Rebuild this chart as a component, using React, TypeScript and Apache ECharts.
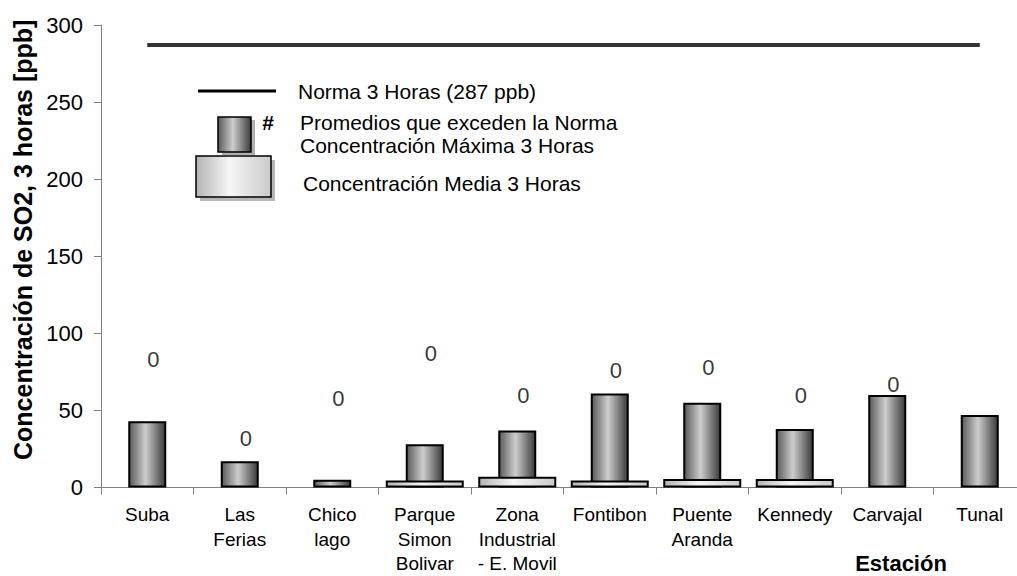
import React, { useEffect, useRef } from "react";
import * as echarts from "echarts";

const categories = [
  "Suba",
  "Las\nFerias",
  "Chico\nlago",
  "Parque\nSimon\nBolivar",
  "Zona\nIndustrial\n- E. Movil",
  "Fontibon",
  "Puente\nAranda",
  "Kennedy",
  "Carvajal",
  "Tunal",
];
const maxValues = [43, 17, 5, 28, 37, 61, 55, 38, 60, 47];
const meanValues: (number | null)[] = [null, null, null, 4.5, 7, 4.5, 5.5, 5.5, null, null];
const normValues = [287, 287, 287, 287, 287, 287, 287, 287, 287, 287];
const exceedLabelPos: (number | null)[] = [83, 32, 58, 87, 60, 76, 78, 60, 67, null];
const exceedCounts: (string | null)[] = ["0", "0", "0", "0", "0", "0", "0", "0", "0", null];

const FONT = "'Liberation Sans', Arial, sans-serif";

const maxGrad = {
  type: "linear", x: 0, y: 0, x2: 1, y2: 0,
  colorStops: [
    { offset: 0, color: "#5a5a5a" },
    { offset: 0.45, color: "#cdcdcd" },
    { offset: 1, color: "#3a3a3a" },
  ],
};
const meanGrad = {
  type: "linear", x: 0, y: 0, x2: 1, y2: 0,
  colorStops: [
    { offset: 0, color: "#b4b4b4" },
    { offset: 0.45, color: "#f6f6f6" },
    { offset: 1, color: "#cacaca" },
  ],
};

export default function App() {
  const ref = useRef<HTMLDivElement>(null);
  useEffect(() => {
    document.body.style.margin = "0";
    document.body.style.overflow = "hidden";
    const chart = echarts.init(ref.current!, null, { renderer: "svg" });
    chart.setOption({
      animation: false,
      backgroundColor: "#ffffff",
      textStyle: { fontFamily: FONT },
      grid: { left: 101, top: 25, width: 925, height: 466 },
      xAxis: [
        {
          type: "category",
          data: categories,
          axisLine: { lineStyle: { color: "#808080", width: 1 } },
          axisTick: { show: true, length: 7, lineStyle: { color: "#808080" } },
          axisLabel: {
            color: "#000",
            fontSize: 19,
            fontFamily: FONT,
            lineHeight: 24.5,
            margin: 15,
            interval: 0,
          },
        },
        {
          type: "category",
          data: categories,
          show: false,
        },
      ],
      yAxis: {
        type: "value",
        min: 0,
        max: 300,
        interval: 50,
        splitLine: { show: false },
        axisLine: { show: true, lineStyle: { color: "#808080", width: 1 } },
        axisTick: { show: true, length: 7, lineStyle: { color: "#808080" } },
        axisLabel: { color: "#000", fontSize: 22, fontFamily: FONT, margin: 18 },
      },
      series: [
        {
          type: "bar",
          xAxisIndex: 0,
          data: maxValues,
          barWidth: 38,
          itemStyle: { color: maxGrad, borderColor: "#000", borderWidth: 2 },
          z: 2,
        },
        {
          type: "bar",
          xAxisIndex: 1,
          data: meanValues,
          barWidth: 78,
          itemStyle: { color: meanGrad, borderColor: "#000", borderWidth: 2 },
          z: 3,
        },
        {
          type: "line",
          xAxisIndex: 0,
          data: normValues,
          symbol: "none",
          lineStyle: { color: "#333333", width: 4 },
          z: 4,
        },
        {
          type: "scatter",
          xAxisIndex: 0,
          data: exceedLabelPos,
          symbolSize: 1,
          itemStyle: { color: "rgba(0,0,0,0)" },
          label: {
            show: true,
            position: "inside",
            offset: [6, 0],
            color: "#000",
            fontSize: 22,
            fontFamily: FONT,
            formatter: (p: any) => exceedCounts[p.dataIndex] ?? "",
          },
          z: 5,
        },
      ],
      graphic: [
        {
          type: "text",
          x: 23,
          y: 460,
          rotation: Math.PI / 2,
          style: {
            text: "Concentración de SO2, 3 horas [ppb]",
            font: `bold 25px ${FONT}`,
            fill: "#000",
            textAlign: "left",
            textVerticalAlign: "middle",
          },
        },
        {
          type: "text",
          x: 901,
          y: 563,
          style: {
            text: "Estación",
            font: `bold 22px ${FONT}`,
            fill: "#000",
            textAlign: "center",
            textVerticalAlign: "middle",
          },
        },
        {
          type: "line",
          shape: { x1: 198, y1: 91, x2: 276, y2: 91 },
          style: { stroke: "#000", lineWidth: 3 },
        },
        {
          type: "text",
          x: 298,
          y: 91,
          style: { text: "Norma 3 Horas (287 ppb)", font: `21px ${FONT}`, fill: "#000", textVerticalAlign: "middle" },
        },
        {
          type: "rect",
          shape: { x: 222, y: 120, width: 33, height: 35 },
          style: { fill: "#b0b0b0" },
        },
        {
          type: "rect",
          shape: { x: 218, y: 117, width: 33, height: 35 },
          style: { fill: maxGrad, stroke: "#000", lineWidth: 1.5 },
        },
        {
          type: "text",
          x: 268,
          y: 122,
          style: { text: "#", font: `bold 21px ${FONT}`, fill: "#000", textAlign: "center", textVerticalAlign: "middle" },
        },
        {
          type: "text",
          x: 300,
          y: 122,
          style: { text: "Promedios que exceden la Norma", font: `21px ${FONT}`, fill: "#000", textVerticalAlign: "middle" },
        },
        {
          type: "text",
          x: 300,
          y: 145,
          style: { text: "Concentración Máxima 3 Horas", font: `21px ${FONT}`, fill: "#000", textVerticalAlign: "middle" },
        },
        {
          type: "rect",
          shape: { x: 200, y: 160, width: 75, height: 41 },
          style: { fill: "#b8b8b8" },
        },
        {
          type: "rect",
          shape: { x: 196, y: 156, width: 75, height: 41 },
          style: { fill: meanGrad, stroke: "#000", lineWidth: 1.5 },
        },
        {
          type: "text",
          x: 303,
          y: 183,
          style: { text: "Concentración Media 3 Horas", font: `21px ${FONT}`, fill: "#000", textVerticalAlign: "middle" },
        },
      ],
    });
    return () => chart.dispose();
  }, []);
  return <div ref={ref} style={{ width: 1030, height: 576 }} />;
}
